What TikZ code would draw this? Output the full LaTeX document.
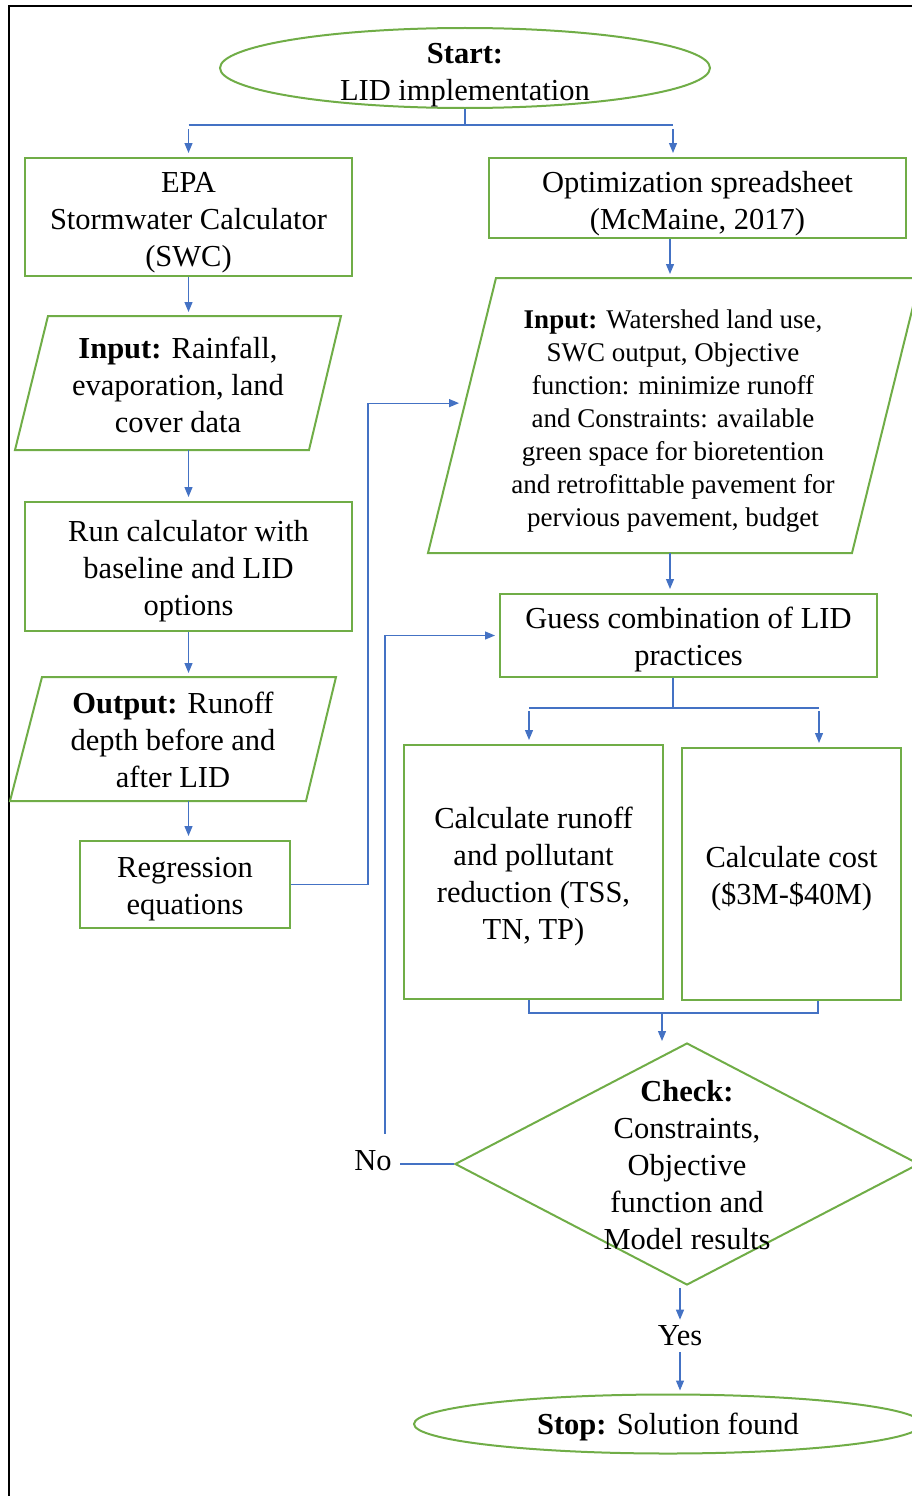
\documentclass[tikz,border=0pt]{standalone}
\usepackage{fontspec}
\setmainfont{Liberation Serif}
\usetikzlibrary{shapes.geometric,arrows.meta,calc}
\definecolor{grn}{HTML}{70AD47}
\definecolor{blu}{HTML}{4472C4}
\newcommand\bigfnt{\fontsize{30.5}{37}\selectfont}
\newcommand\smfnt{\fontsize{27}{33}\selectfont}
\tikzset{
  gbox/.style={draw=grn, line width=2pt, rectangle, inner sep=0pt},
  txt/.style={inner sep=0pt, align=center, font=\bigfnt},
  gline/.style={draw=grn, line width=2pt, line join=miter},
  bl/.style={draw=blu, line width=1.2pt},
  arr/.style={draw=blu, line width=1.2pt, -{Triangle[width=8pt,length=10pt]}, shorten >=4pt},
}
\begin{document}
\begin{tikzpicture}[x=1pt,y=-1pt]
\useasboundingbox (0,0) rectangle (912,1496);
% border
\draw[black, line width=2pt] (912,6) -- (9,6) -- (9,1500);

% start
\node[draw=grn, line width=2pt, ellipse, minimum width=490pt, minimum height=80pt, inner sep=0pt] (start) at (465,68) {};
\node[txt] (starttxt) at (465,75) {\textbf{Start:}\\LID implementation};

% boxes
\node[gbox, minimum width=327pt, minimum height=118pt] (epa) at (188.5,217) {};
\node[txt] (epatxt) at (188.5,223) {EPA\\Stormwater Calculator\\(SWC)};
\node[gbox, minimum width=417pt, minimum height=80pt] (opt) at (697.5,198) {};
\node[txt] (opttxt) at (697.5,204) {Optimization spreadsheet\\(McMaine, 2017)};
\node[gbox, minimum width=327pt, minimum height=129pt] (run) at (188.5,566.5) {};
\node[txt] (runtxt) at (188.5,571.5) {Run calculator with\\baseline and LID\\options};
\node[gbox, minimum width=210pt, minimum height=87pt] (reg) at (185,884.5) {};
\node[txt] (regtxt) at (185,889.5) {Regression\\equations};
\node[gbox, minimum width=377pt, minimum height=83pt] (guess) at (688.5,635.5) {};
\node[txt] (guesstxt) at (688.5,639.5) {Guess combination of LID\\practices};
\node[gbox, minimum width=259pt, minimum height=254pt] (calcr) at (533.5,872) {};
\node[txt] (calcrtxt) at (533.5,876) {Calculate runoff\\and pollutant\\reduction (TSS,\\TN, TP)};
\node[gbox, minimum width=219pt, minimum height=252pt] (calcc) at (791.5,874) {};
\node[txt] (calcctxt) at (791.5,879) {Calculate cost\\(\$3M-\$40M)};

% parallelograms
\coordinate (inltl) at (48,316); \coordinate (inltr) at (341,316);
\coordinate (inlbr) at (309,450); \coordinate (inlbl) at (15,450);
\draw[gline] (inltl) -- (inltr) -- (inlbr) -- (inlbl) -- cycle;
\node[txt] (inl) at (178,385) {\textbf{Input:} Rainfall,\\evaporation, land\\cover data};

\coordinate (outtl) at (42,677); \coordinate (outtr) at (336,677);
\coordinate (outbr) at (306,801); \coordinate (outbl) at (10,801);
\draw[gline] (outtl) -- (outtr) -- (outbr) -- (outbl) -- cycle;
\node[txt] (outl) at (173,740) {\textbf{Output:} Runoff\\depth before and\\after LID};

\coordinate (inrtl) at (496,278); \coordinate (inrtr) at (920,278);
\coordinate (inrbr) at (852,553); \coordinate (inrbl) at (428,553);
\draw[gline] (inrtl) -- (inrtr) -- (inrbr) -- (inrbl) -- cycle;
\node[txt, font=\smfnt] (inr) at (673,421.5) {\textbf{Input:} Watershed land use,\\SWC output, Objective\\function: minimize runoff\\and Constraints: available\\green space for bioretention\\and retrofittable pavement for\\pervious pavement, budget};

% diamond
\node[draw=grn, line width=2pt, diamond, minimum width=464pt, minimum height=242pt, inner sep=0pt] (chk) at (687,1164) {};
\node[txt] (chktxt) at (687,1165) {\textbf{Check:}\\Constraints,\\Objective\\function and\\Model results};

% stop
\node[draw=grn, line width=2pt, ellipse, minimum width=508pt, minimum height=59pt, inner sep=0pt] (stop) at (668,1424) {};
\node[txt] (stoptxt) at (668,1427) {\textbf{Stop:} Solution found};

% labels
\node[txt] (no) at (373,1161) {No};
\node[txt] (yes) at (680,1336) {Yes};

% connectors
\coordinate (colR) at ([xshift=-27.5pt]opt.south);
\draw[bl] (start.south) -- ++(0,16) coordinate (sp1);
\draw[bl] (sp1 -| epa.north) -- (sp1 -| colR) -- ++(3,0);
\draw[arr, shorten <=4pt] (sp1 -| epa.north) -- (epa.north);
\draw[arr, shorten <=4pt] ($(sp1 -| colR)+(3,0)$) -- ($(opt.north -| colR)+(3,0)$);

\draw[arr] (epa.south) -- (epa.south |- inltl);
\draw[arr] (epa.south |- inlbl) -- (run.north);
\draw[arr] (run.south) -- (run.south |- outtl);
\draw[arr] (run.south |- outbl) -- (run.south |- reg.north);

\coordinate (inrpt) at ($(inrtl)!0.455!(inrbl)$);
\draw[arr, shorten >=6pt] (reg.east) -- ++(77,0) |- (inrpt);

\draw[arr] (colR) -- (colR |- inrtl);
\draw[arr] (colR |- inrbl) -- (colR |- guess.north);

\draw[bl] ([xshift=-15.5pt]guess.south) -- ++(0,30) coordinate (sp2);
\coordinate (sp2a) at ($(sp2 -| calcr.north)+(-4.5,0)$);
\coordinate (sp2b) at ($(sp2 -| calcc.north)+(27.5,0)$);
\draw[bl] (sp2a) -- (sp2b);
\draw[arr, shorten <=3pt] (sp2a) -- (sp2a |- calcr.north);
\draw[arr, shorten <=3pt] (sp2b) -- (sp2b |- calcc.north);

\draw[bl] ([xshift=-4.5pt]calcr.south) -- ++(0,13) coordinate (j1) -| ([xshift=26.5pt]calcc.south);
\coordinate (j2) at ($(j1 -| chk.north)+(-25,0)$);
\draw[arr, shorten >=1pt] (j2) -- (j2 |- chk.north);

\draw[bl] (chk.west) -- ($(chk.west -| no.east)+(8,0)$);
\draw[arr, shorten <=17pt] ([xshift=12pt]no.north) |- (guess.west);

\draw[arr, shorten <=2pt, shorten >=6pt] (yes.north |- chk.south) -- (yes.north);
\draw[arr, shorten <=6pt, shorten >=3pt] (yes.south) -- (yes.south |- stop.north);
\end{tikzpicture}
\end{document}
